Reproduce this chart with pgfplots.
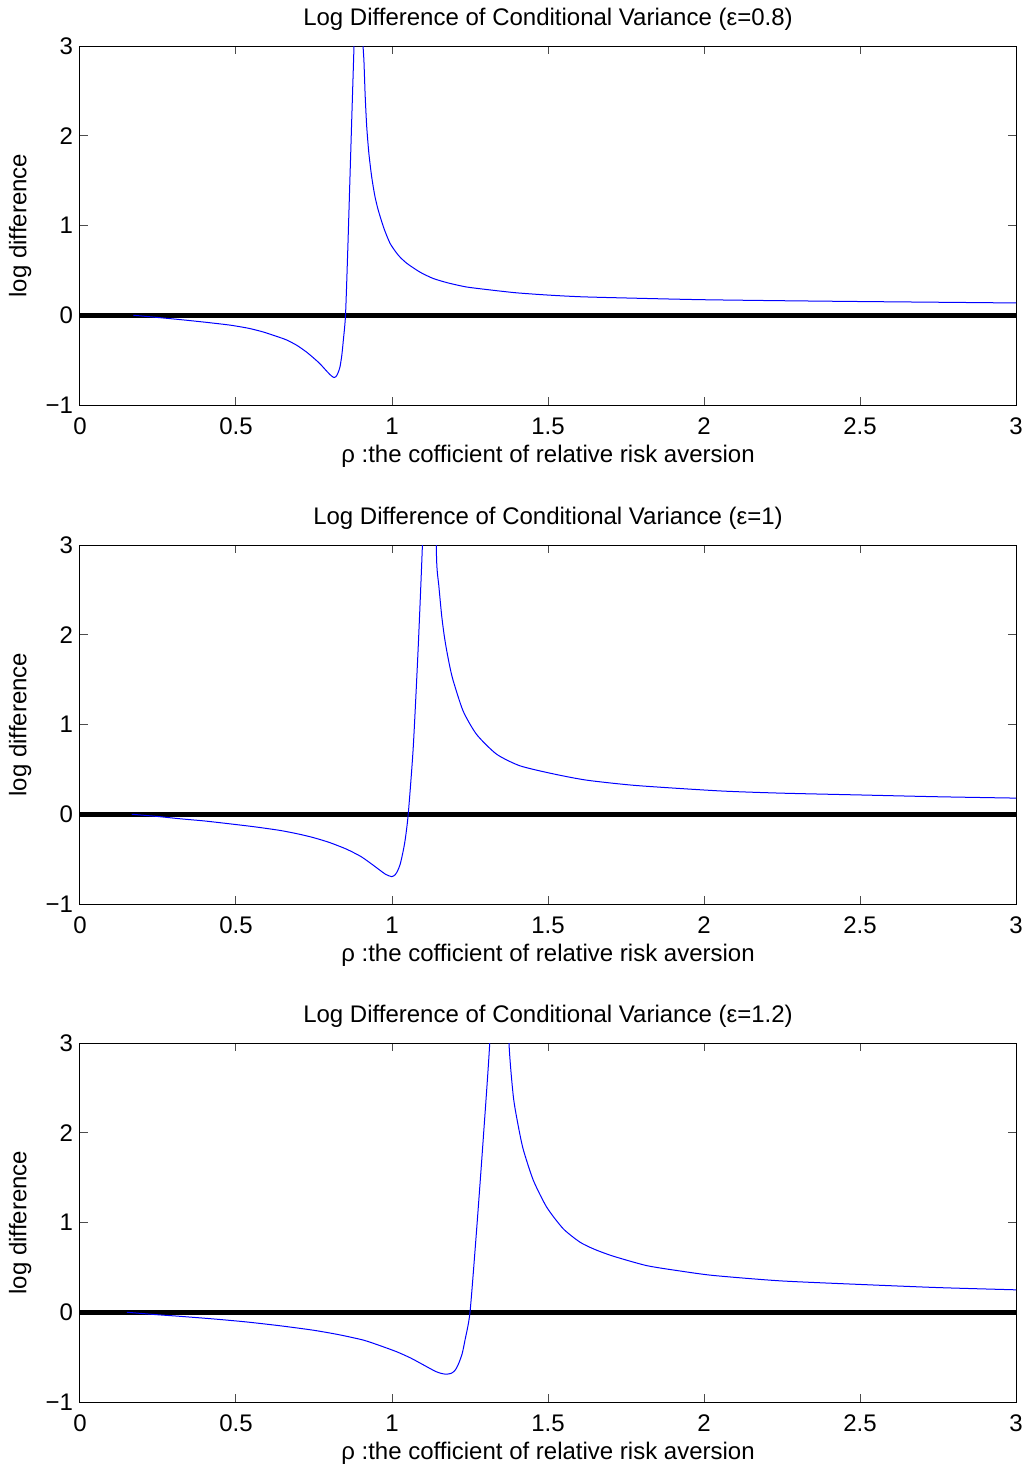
\documentclass[border=0pt]{standalone}
\usepackage{fontspec}
\setmainfont{Liberation Sans}
\usepackage{pgfplots}
\pgfplotsset{compat=1.18}

\pgfplotsset{panel/.style={
  scale only axis, width=468pt, height=179.5pt,
  xmin=0, xmax=3, ymin=-1, ymax=3,
  xtick={0,0.5,1,1.5,2,2.5,3}, xticklabels={0,0.5,1,1.5,2,2.5,3},
  ytick={-1,0,1,2,3}, yticklabels={−1,0,1,2,3},
  tick align=inside, tick pos=both,
  major tick length=4pt,
  tick style={black!70, line width=0.5pt},
  axis line style={line width=0.5pt},
  ticklabel style={font=\fontsize{12}{14}\selectfont},
  xticklabel style={yshift=-3pt},
  label style={font=\fontsize{12}{14}\selectfont},
  title style={font=\fontsize{12}{14}\selectfont, yshift=-2pt},
  xlabel={ρ :the cofficient of relative risk aversion},
  ylabel={log difference},
  xlabel style={at={(axis description cs:0.5,-0.142)}, anchor=center},
  ylabel style={at={(axis description cs:-0.064,0.5)}, anchor=center},
  curve/.style={blue, line width=0.5pt, smooth, tension=0.4},
}}

\begin{document}
\begin{tikzpicture}
\useasboundingbox (0,0) rectangle (514.5pt,-734.5pt);

% eps = 0.8
\begin{axis}[panel, at={(40pt,-23pt)}, anchor=north west,
  title={Log Difference of Conditional Variance (ε=0.8)}]
\addplot[black, line width=2.5pt] coordinates {(0,0) (3,0)};
\addplot[curve] coordinates {
  (0.171,0) (0.25,-0.025) (0.32,-0.048) (0.4,-0.077) (0.481,-0.11)
  (0.54,-0.145) (0.587,-0.186) (0.63,-0.235) (0.662,-0.275) (0.695,-0.335)
  (0.726,-0.41) (0.75,-0.48) (0.769,-0.54) (0.79,-0.62) (0.804,-0.67)
  (0.814,-0.694) (0.82,-0.685) (0.826,-0.65) (0.833,-0.58) (0.839,-0.45)
  (0.844,-0.28) (0.851,0) (0.858,0.7) (0.865,1.5) (0.872,2.3) (0.879,3.1)
  (0.885,4) (0.900,4) (0.906,3.1) (0.910,2.84) (0.914,2.45) (0.919,2.10)
  (0.926,1.80) (0.935,1.54) (0.945,1.33) (0.956,1.17) (0.974,0.97)
  (0.994,0.80) (1.02,0.67) (1.047,0.58) (1.09,0.48) (1.132,0.41)
  (1.18,0.36) (1.239,0.315) (1.32,0.28) (1.399,0.25) (1.5,0.225)
  (1.613,0.205) (1.827,0.186) (2.0,0.173) (2.25,0.162) (2.5,0.153)
  (2.75,0.145) (3.0,0.137)};
\end{axis}

% eps = 1
\begin{axis}[panel, at={(40pt,-272.5pt)}, anchor=north west,
  title={Log Difference of Conditional Variance (ε=1)}]
\addplot[black, line width=2.5pt] coordinates {(0,0) (3,0)};
\addplot[curve] coordinates {
  (0.166,0) (0.25,-0.025) (0.32,-0.05) (0.4,-0.075) (0.481,-0.107)
  (0.56,-0.14) (0.641,-0.18) (0.7,-0.22) (0.748,-0.26) (0.8,-0.315)
  (0.855,-0.39) (0.9,-0.47) (0.929,-0.54) (0.96,-0.62) (0.98,-0.67)
  (0.999,-0.695) (1.01,-0.675) (1.018,-0.63) (1.026,-0.56) (1.034,-0.44)
  (1.042,-0.29) (1.052,0) (1.068,0.74) (1.084,1.86) (1.098,3.05)
  (1.105,4) (1.135,4) (1.143,2.83) (1.15,2.55) (1.159,2.22) (1.167,2.0)
  (1.175,1.83) (1.185,1.65) (1.196,1.49) (1.228,1.15) (1.271,0.89)
  (1.335,0.67) (1.41,0.54) (1.517,0.45) (1.624,0.38) (1.784,0.32)
  (2.051,0.26) (2.25,0.235) (2.5,0.215) (2.75,0.195) (3.0,0.18)};
\end{axis}

% eps = 1.2
\begin{axis}[panel, at={(40pt,-521.5pt)}, anchor=north west,
  title={Log Difference of Conditional Variance (ε=1.2)}]
\addplot[black, line width=2.5pt] coordinates {(0,0) (3,0)};
\addplot[curve] coordinates {
  (0.15,0) (0.25,-0.028) (0.32,-0.045) (0.43,-0.075) (0.534,-0.108)
  (0.64,-0.15) (0.748,-0.20) (0.83,-0.25) (0.908,-0.31) (0.96,-0.37)
  (1.015,-0.44) (1.06,-0.51) (1.10,-0.585) (1.14,-0.66) (1.16,-0.683)
  (1.175,-0.69) (1.19,-0.68) (1.2,-0.655) (1.207,-0.62) (1.215,-0.56)
  (1.225,-0.46) (1.234,-0.31) (1.25,0) (1.271,0.91) (1.292,1.91)
  (1.314,3.05) (1.32,4) (1.37,4) (1.375,3.0) (1.389,2.40) (1.405,2.07)
  (1.421,1.81) (1.453,1.47) (1.496,1.17) (1.549,0.93) (1.603,0.78)
  (1.65,0.70) (1.709,0.625) (1.816,0.52) (1.923,0.46) (2.03,0.41)
  (2.244,0.35) (2.5,0.31) (2.75,0.275) (3.0,0.25)};
\end{axis}
\end{tikzpicture}
\end{document}
